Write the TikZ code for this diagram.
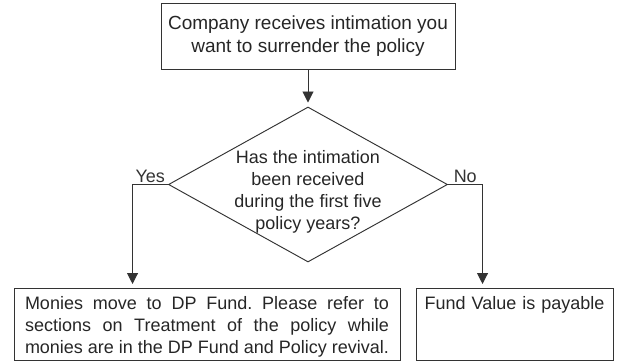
\documentclass[tikz,border=0pt]{standalone}
\usepackage{fontspec}
\setmainfont{Liberation Sans}
\usepackage{graphicx}
\usepackage{tikz}
\usetikzlibrary{calc,shapes,arrows.meta}
\frenchspacing

\begin{document}
\begin{tikzpicture}[x=1pt, y=-1pt, line width=0.95pt, draw=black!80, text=black!85,
  font=\fontsize{18}{22}\selectfont, every node/.style={inner sep=0pt},
  box/.style={draw,rectangle},
  outcome/.style={box, anchor=north, text height=21pt, text depth=51pt},
  flow/.style={-{Triangle[length=11pt,width=11pt]}, black!80}]
  \useasboundingbox (0,0) rectangle (621,364);

  \node [box, minimum width=294pt, minimum height=66pt, align=center, font=\fontsize{19}{23}\selectfont] (notice) at (308, 36) {Company receives intimation you\\want to surrender the policy};

  %the question
  \node [draw, diamond, minimum width=279pt, minimum height=155pt,
    label={[yshift=-7pt, align=center]center:{Has the intimation\\been received\\during the first five\\policy years?}}] (q) at (308, 184.5) {};
  \draw [flow, shorten >=4pt] (notice) -- (q);

  %outcomes
  \node [outcome, minimum width=386pt, text width=364pt, align=justify] (dpfund) at (207, 288) {\makebox[\linewidth][s]{Monies move to DP Fund. Please refer to}\\
    \makebox[\linewidth][s]{sections on Treatment of the policy while}\\
    \resizebox{\linewidth}{\height}{monies are in the DP Fund and Policy revival.}};
  \node [outcome, minimum width=197pt, text width=183pt, align=center] (payable) at (514.5, 288) {Fund Value is payable};

  \draw [flow, shorten >=4pt] (q.west) -| node [pos=0.25, above, inner sep=1pt] {Yes} ($(dpfund.north west)+(119,0)$);
  \draw [flow, shorten >=4pt] (q.east) -| node [pos=0.25, above, inner sep=1pt] {No} ($(payable.north west)+(67,0)$);
\end{tikzpicture}
\end{document}
